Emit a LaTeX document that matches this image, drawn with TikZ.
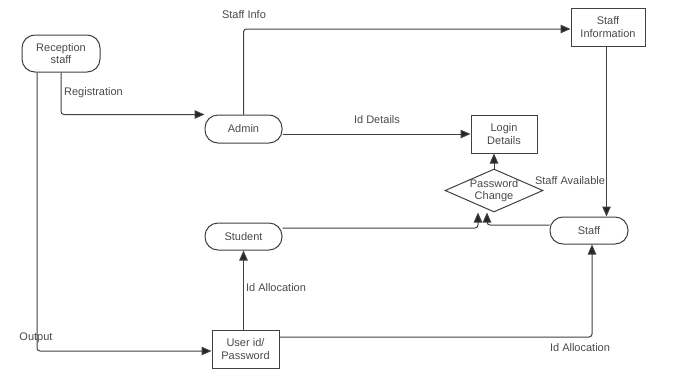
\documentclass[tikz,border=0pt]{standalone}
\usepackage{fontspec}
\setmainfont{Liberation Sans}
\usetikzlibrary{arrows.meta,shapes.geometric}
\definecolor{linec}{HTML}{404040}
\definecolor{textc}{HTML}{4A4A4A}
\tikzset{
  base/.style={font=\fontsize{11}{12.5}\selectfont, text=textc, align=center, inner sep=0pt},
  roundbox/.style={base, draw=linec, line width=1pt, fill=white, rounded corners=13pt},
  sqbox/.style={base, draw=linec, line width=1pt, fill=white},
  decbox/.style={base, draw=linec, line width=1pt, fill=white, diamond},
  lbl/.style={base},
  conn/.style={draw=linec, line width=1pt, rounded corners=3pt, -{Triangle[length=10pt,width=8.5pt,fill=black!85]}}
}
\begin{document}
\begin{tikzpicture}[x=1pt,y=-1pt]
\useasboundingbox (0,0) rectangle (678,378);
% nodes
\node[roundbox, minimum width=78pt, minimum height=37pt] (rec) at (61,53.5) {Reception\\staff};
\node[roundbox, minimum width=77pt, minimum height=28pt] (adm) at (243.5,129) {Admin};
\node[roundbox, minimum width=77pt, minimum height=27pt] (stu) at (243.5,236.5) {Student};
\node[roundbox, minimum width=78pt, minimum height=27pt] (staff) at (589,230.5) {Staff};
\node[sqbox, minimum width=74pt, minimum height=38pt] (sinfo) at (608,27) {Staff\\Information};
\node[sqbox, minimum width=66pt, minimum height=38pt] (login) at (504,134) {Login\\Details};
\node[sqbox, minimum width=67pt, minimum height=38pt] (usr) at (245.5,349) {User id/\\Password};
\node[decbox, minimum width=98pt, minimum height=43pt] (pw) at (494,190.5) {};
\node[base] (pwtext) at (pw.center) {Password\\Change};
% labels
\node[lbl] (l1) at (244,15) {Staff Info};
\node[lbl] (l2) at (93.5,93) {Registration};
\node[lbl] (l3) at (377,120) {Id Details};
\node[lbl] (l4) at (570,181) {Staff Available};
\node[lbl] (l5) at (276,288) {Id Allocation};
\node[lbl] (l6) at (36,338) {Output};
\node[lbl] (l7) at (580,348) {Id Allocation};
% connectors
\draw[conn] (rec.south) |- (adm.north west);
\draw[conn] ([xshift=-24pt]rec.south) |- ([yshift=-2pt]usr.west);
\draw[conn] (adm.north) |- ([yshift=-2pt]sinfo.west);
\draw[conn] (adm.east |- login.west) -- (login.west);
\draw[conn] ([xshift=-1.5pt]sinfo.south) -- ([xshift=-1.5pt]sinfo.south |- staff.north);
\draw[conn] (pw.north) -- (pw.north |- login.south);
\draw[conn] ([yshift=8.5pt]stu.east) -| ([xshift=-16pt]pw.south);
\draw[conn] ([yshift=5.5pt]staff.west) -| ([xshift=-7pt]pw.south);
\draw[conn] (usr.north -| stu.south) -- (stu.south);
\draw[conn] ([yshift=12pt]usr.east) -| ([xshift=3pt]staff.south);
\end{tikzpicture}
\end{document}
